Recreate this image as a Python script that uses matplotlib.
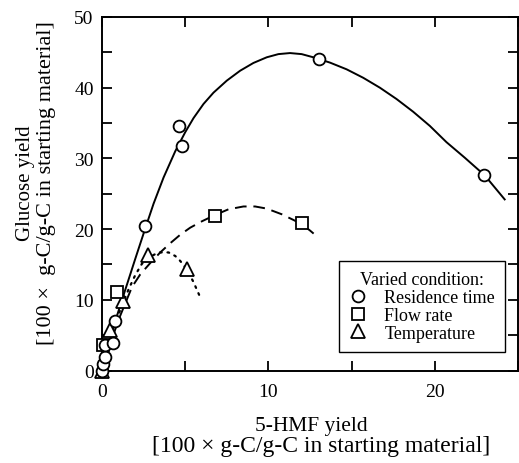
import matplotlib
matplotlib.use('Agg')
import matplotlib.pyplot as plt
from matplotlib.lines import Line2D

plt.rcParams['font.family'] = ['Liberation Serif', 'DejaVu Serif']

# measured points
res_x = [0.0, 0.04, 0.18, 0.18, 0.64, 0.78, 2.6, 4.6, 4.8, 13.05, 22.95]
res_y = [0.0, 0.9, 1.9, 3.6, 3.85, 7.0, 20.4, 34.6, 31.7, 44.0, 27.7]
flow_x = [0.05, 0.88, 6.8, 12.0]
flow_y = [3.6, 11.1, 21.8, 20.9]
temp_x = [0.0, 0.48, 1.28, 2.74, 5.13]
temp_y = [0.0, 5.7, 9.9, 16.3, 14.3]

# fitted curves
res_fit_x = [0.0, 0.4, 0.8, 1.3, 2.0, 2.6, 3.1, 3.7, 4.4, 5.0, 5.5, 6.1, 6.7,
             7.5, 8.3, 9.1, 9.9, 10.6, 11.3, 12.0, 12.7, 13.7, 14.7, 15.7,
             16.7, 17.7, 18.7, 19.7, 20.7, 21.8, 23.0, 24.2]
res_fit_y = [0.0, 3.6, 7.0, 10.7, 15.8, 20.1, 23.6, 27.3, 31.0, 33.7, 35.7,
             37.7, 39.3, 41.0, 42.4, 43.5, 44.3, 44.75, 44.9, 44.75, 44.3,
             43.55, 42.6, 41.4, 40.0, 38.4, 36.6, 34.6, 32.3, 30.1, 27.6, 24.2]
flow_fit_x = [0.0, 0.5, 1.0, 1.8, 2.3, 2.9, 3.5, 4.1, 4.7, 5.3, 6.0, 6.8,
              7.6, 8.5, 9.2, 9.9, 10.8, 11.5, 12.0, 12.5, 13.0]
flow_fit_y = [0.0, 3.8, 7.2, 11.8, 13.6, 15.2, 16.7, 18.0, 19.2, 20.2, 21.1,
              22.0, 22.8, 23.2, 23.2, 22.9, 22.1, 21.3, 20.7, 19.8, 18.8]
temp_fit_x = [0.0, 0.5, 1.0, 1.6, 2.0, 2.4, 2.9, 3.4, 4.0, 4.4, 4.7, 5.1,
              5.5, 5.95]
temp_fit_y = [0.0, 4.2, 8.0, 11.5, 13.5, 15.1, 16.1, 16.7, 16.7, 16.2,
              15.5, 14.3, 12.5, 10.1]

xticks = [0, 5, 10, 15, 20, 25]
xticklabels = ['0', '', '10', '', '20', '']
yticks = [0, 5, 10, 15, 20, 25, 30, 35, 40, 45, 50]
yticklabels = ['0', '', '10', '', '20', '', '30', '', '40', '', '50']

W, H = 519, 464
fig = plt.figure(figsize=(W / 100, H / 100), dpi=100)
ax = fig.add_axes([102 / W, 1 - 371.5 / H, 416 / W, 353.5 / H])

ax.plot(res_fit_x, res_fit_y, '-', color='black', lw=1.4)
ax.plot(flow_fit_x, flow_fit_y, color='black', lw=1.4, dashes=(6, 3.5))
ax.plot(temp_fit_x, temp_fit_y, color='black', lw=1.6, dashes=(0.8, 2.6),
        dash_capstyle='round')

mk = dict(linestyle='none', markerfacecolor='white', markeredgecolor='black',
          markeredgewidth=1.3)
ax.plot(temp_x, temp_y, marker='^', markersize=9.5, clip_on=False, zorder=3, **mk)
ax.plot(flow_x, flow_y, marker='s', markersize=8.5, clip_on=False, zorder=3, **mk)
ax.plot(res_x, res_y, marker='o', markersize=8.5, clip_on=False, zorder=3, **mk)

ax.set_xlim(0, 25)
ax.set_ylim(0, 50)
ax.set_xticks(xticks)
ax.set_xticklabels(xticklabels)
ax.set_yticks(yticks)
ax.set_yticklabels(yticklabels)
ax.tick_params(direction='in', length=7, width=1.3, labelsize=14,
               top=True, right=True)
ax.tick_params(axis='x', pad=9)
ax.tick_params(axis='y', pad=6)
for s in ax.spines.values():
    s.set_linewidth(1.4)

handles = [
    Line2D([], [], marker='o', markersize=8.5, **mk),
    Line2D([], [], marker='s', markersize=8.5, **mk),
    Line2D([], [], marker='^', markersize=9.5, **mk),
]
leg = ax.legend(handles, ['Residence time', 'Flow rate', 'Temperature'],
                title='Varied condition:', loc='lower right',
                bbox_to_anchor=(403 / 416, 18.8 / 353.5), fontsize=13,
                title_fontsize=13, frameon=True, fancybox=False, framealpha=1,
                edgecolor='black', handlelength=1.0, handletextpad=0.95,
                labelspacing=0.05, borderpad=0.55, borderaxespad=0)
leg.get_frame().set_linewidth(1.0)

# y label (two lines, rotated)
fig.text(30 / W, 1 - 183.5 / H, 'Glucose yield', rotation=90,
         rotation_mode='anchor', ha='center', va='baseline', fontsize=15)
fig.text(51 / W, 1 - 183 / H, '[100 \u00d7  g-C/g-C in starting material]',
         rotation=90, rotation_mode='anchor', ha='center', va='baseline',
         fontsize=16)
# x label
fig.text(311 / W, 1 - 431 / H, '5-HMF yield', ha='center', va='baseline',
         fontsize=15.5)
fig.text(321 / W, 1 - 452 / H, '[100 \u00d7 g-C/g-C in starting material]',
         ha='center', va='baseline', fontsize=17)

fig.savefig('out.png', dpi=100)
